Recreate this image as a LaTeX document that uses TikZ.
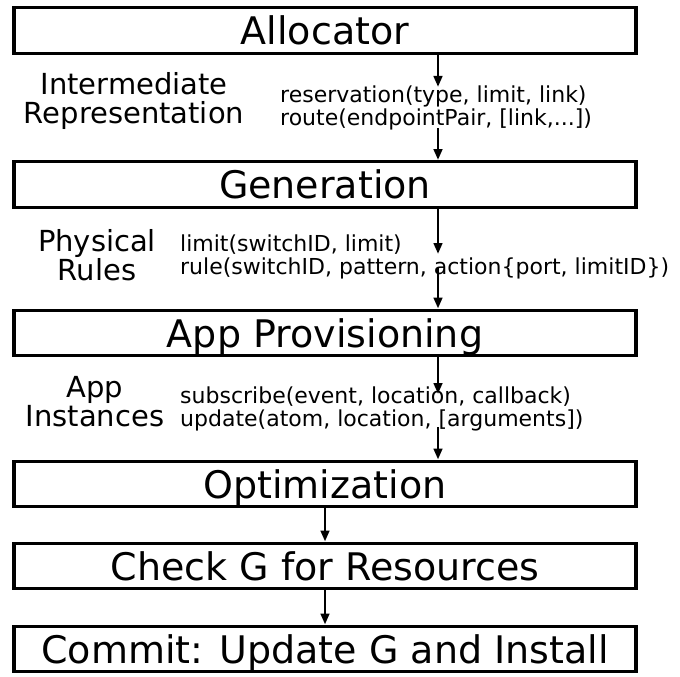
\documentclass[tikz,border=0pt]{standalone}
\usepackage{fontspec}
\setmainfont{DejaVu Sans}
\usetikzlibrary{arrows.meta}
\begin{document}
\begin{tikzpicture}[x=1pt, y=-1pt,
  stage/.style={draw, line width=3.4pt, minimum width=622pt, minimum height=45.5pt,
    inner sep=0pt, text height=28pt, text depth=0pt,
    font=\fontsize{38}{40}\selectfont},
  layer/.style={inner sep=0pt, align=center, anchor=north,
    font=\fontsize{29}{29}\selectfont},
  api/.style={inner sep=0pt, align=left, anchor=north west,
    font=\fontsize{22}{23.5}\selectfont},
  flow/.style={line width=2.8pt, -{Triangle[length=11pt, width=8.5pt]}}
]
\useasboundingbox (0,0) rectangle (680,677);

% pipeline stages
\node[stage] (alloc) at (325,30.5) {Allocator};
\node[stage] (gen)   at (325,184.5) {Generation};
\node[stage] (prov)  at (325,333) {App Provisioning};
\node[stage] (opt)   at (325,484) {Optimization};
\node[stage] (check) at (325,566) {Check G for Resources};
\node[stage] (commit) at (325,649) {Commit: Update G and Install};

% layer names on the left
\node[layer] (irname)   at (134,70.8)  {\rule{0pt}{23.2pt}Intermediate\\Representation};
\node[layer] (physname) at (97,227.8)  {\rule{0pt}{23.2pt}Physical\\Rules};
\node[layer] (appname)  at (95,373.8)  {\rule{0pt}{23.2pt}App\\Instances};

% interface calls between stages
\node[api] (irapi)   at (280,84.4)  {\rule{0pt}{17.6pt}reservation(type, limit, link)\\route(endpointPair, [link,...])};
\node[api] (physapi) at (180,233.4) {\rule{0pt}{17.6pt}limit(switchID, limit)\\rule(switchID, pattern, action\{port, limitID\})};
\node[api] (appapi)  at (180,385.4) {\rule{0pt}{17.6pt}subscribe(event, location, callback)\\update(atom, location, [arguments])};

% split arrows around the interface text
\coordinate (irin)    at (438,87);
\coordinate (irout)   at (438,128);
\coordinate (physin)  at (438,254);
\coordinate (physout) at (438,268);
\coordinate (appin)   at (438,394);
\coordinate (appout)  at (438,427);

\draw[flow] (alloc.south -| irin) -- (irin);
\draw[flow] (irout) -- (irout |- gen.north);
\draw[flow] (gen.south -| physin) -- (physin);
\draw[flow] (physout) -- (physout |- prov.north);
\draw[flow] (prov.south -| appin) -- (appin);
\draw[flow] (appout) -- (appout |- opt.north);

\draw[flow] (opt.south) -- (check.north);
\draw[flow] (check.south) -- (commit.north);
\end{tikzpicture}
\end{document}
